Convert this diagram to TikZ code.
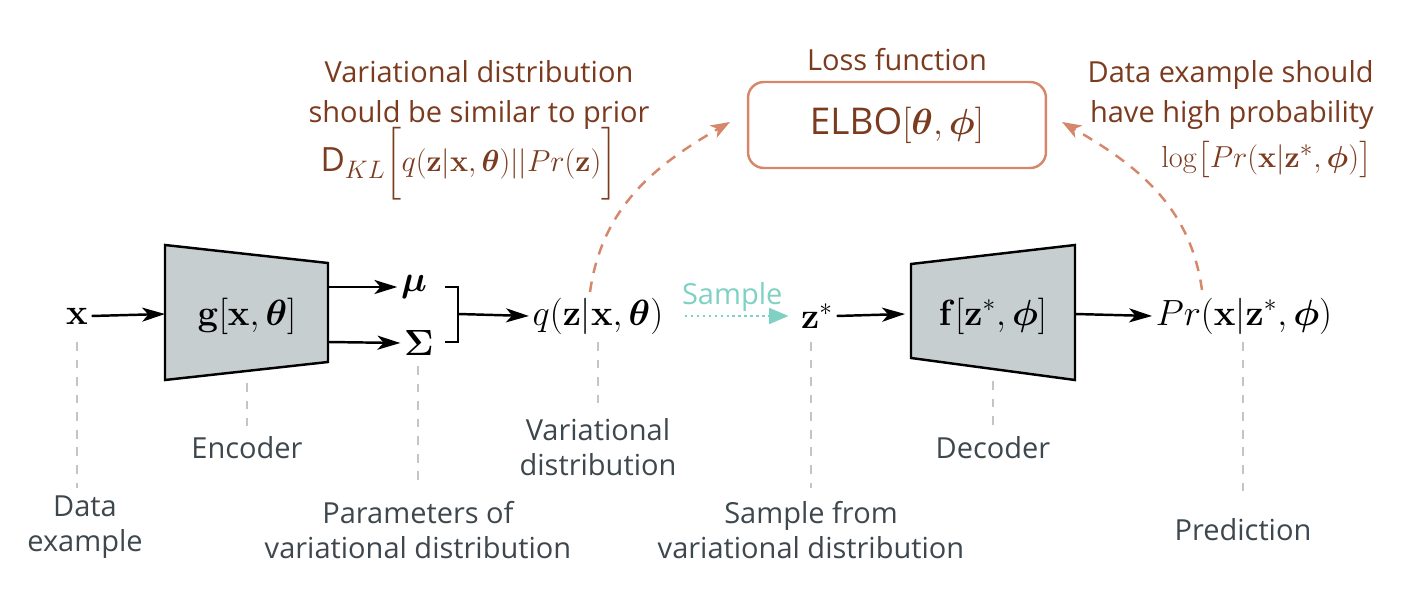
\documentclass[tikz,border=0pt]{standalone}
\usepackage[no-math]{fontspec}
\setmainfont{Open Sans}
\usepackage{amsmath,bm}
\usetikzlibrary{arrows.meta}
\definecolor{txtgray}{HTML}{3D474D}
\definecolor{brownt}{HTML}{7A3B1F}
\definecolor{orangel}{HTML}{D6876A}
\definecolor{tealc}{HTML}{7FD1C4}
\definecolor{boxgray}{HTML}{C7CECF}
\definecolor{dashgray}{HTML}{C4C4C4}
\begin{document}
\begin{tikzpicture}[x=0.02cm,y=-0.02cm,
  lbl/.style={text=txtgray,font=\fontsize{16.5}{20}\selectfont,align=center,inner sep=0pt},
  blbl/.style={text=brownt,font=\fontsize{16.5}{22.5}\selectfont,inner sep=0pt},
  mathlbl/.style={font=\fontsize{22}{26}\selectfont,inner sep=2pt},
  arr/.style={-{Stealth[length=13pt,width=8pt,inset=3.5pt]},line width=1.4pt},
  guide/.style={dashgray,line width=1.2pt,dash pattern=on 5pt off 5pt},
  orarr/.style={orangel,line width=1.4pt,dash pattern=on 6pt off 5pt,-{Stealth[length=11pt,width=8pt,inset=3pt]}},
  trap/.style={fill=boxgray,draw=black,line width=1.4pt,line join=miter}]
\useasboundingbox (0,0) rectangle (1428,594);

% main row
\node[mathlbl] (x) at (77,316) {$\mathbf{x}$};
\coordinate (e1) at (165,245); \coordinate (e2) at (328,263);
\coordinate (e3) at (328,362); \coordinate (e4) at (165,380);
\draw[trap] (e1) -- (e2) -- (e3) -- (e4) -- cycle;
\node[mathlbl] (g) at (247,316) {$\mathbf{g}[\mathbf{x},\bm{\theta}]$};
\coordinate (encL) at (165,314);
\draw[arr] (x.east) -- (encL);

\node[mathlbl] (mu) at (414,287) {$\bm{\mu}$};
\node[mathlbl] (sig) at (419,343) {$\bm{\Sigma}$};
\coordinate (encR1) at (328,287); \coordinate (encR2) at (328,342);
\draw[arr] (encR1) -- (mu.west);
\draw[arr] (encR2) -- (sig.west);

\coordinate (b1) at (445,287); \coordinate (b2) at (458,287);
\coordinate (b3) at (458,342); \coordinate (b4) at (445,342);
\coordinate (bm) at (458,314);
\draw[line width=1.4pt] (b1) -- (b2) -- (b3) -- (b4);

\node[mathlbl] (q) at (598,316) {$q(\mathbf{z}|\mathbf{x},\bm{\theta})$};
\draw[arr] (bm) -- (q.west);

\node[mathlbl] (z) at (817,316) {$\mathbf{z}^{*}$};
\draw[tealc,line width=1.4pt,dotted,-{Triangle[length=11pt,width=9pt]},shorten <=10pt,shorten >=5pt] (q.east) -- node[above=2pt,font=\fontsize{16.5}{19.5}\selectfont,text=tealc,inner sep=0pt] (samp) {Sample} (z.west);

\coordinate (d1) at (911,264); \coordinate (d2) at (1075,245);
\coordinate (d3) at (1075,380); \coordinate (d4) at (911,358);
\draw[trap] (d1) -- (d2) -- (d3) -- (d4) -- cycle;
\node[mathlbl] (f) at (993,316) {$\mathbf{f}[\mathbf{z}^{*},\bm{\phi}]$};
\coordinate (decL) at (905,314); \coordinate (decR) at (1075,314);
\draw[arr] (z.east) -- (decL);

\node[mathlbl] (pr) at (1244,316) {$Pr(\mathbf{x}|\mathbf{z}^{*},\bm{\phi})$};
\draw[arr] (decR) -- (pr.west);

% loss
\node[draw=orangel,line width=1.4pt,rounded corners=9pt,minimum width=5.96cm,minimum height=1.72cm,text=brownt,font=\fontsize{21}{25}\selectfont] (elbo) at (897,125) {ELBO$[\bm{\theta},\bm{\phi}]$};
\node[blbl] (loss) at (897,60) {Loss function};

\node[blbl,align=center] (vd) at (479,95) {Variational distribution\\should be similar to prior};
\node[blbl,font=\fontsize{19}{23}\selectfont] (vd3) at (469,164) {D$_{KL}\biggl[q(\mathbf{z}|\mathbf{x},\bm{\theta})||Pr(\mathbf{z})\biggr]$};

\node[blbl,anchor=east,align=right] (de) at (1374,95) {Data example should\\have high probability};
\node[blbl,anchor=east,font=\fontsize{19}{23}\selectfont] (de3) at (1372,160) {$\log\bigl[Pr(\mathbf{x}|\mathbf{z}^{*},\bm{\phi})\bigr]$};

\coordinate (qtop) at (590,292); \coordinate (elboL) at (730,122);
\coordinate (prtop) at (1202,290); \coordinate (elboR) at (1062,122);
\draw[orarr] (qtop) to[out=82,in=-150] (elboL);
\draw[orarr] (prtop) to[out=98,in=-30] (elboR);

% bottom labels
\draw[guide] (77,342) -- (77,488);
\node[lbl] (ldata) at (85,527) {Data\\example};
\draw[guide] (247,383) -- (247,426);
\node[lbl] (lenc) at (247,448) {Encoder};
\draw[guide] (418,366) -- (418,486);
\node[lbl] (lpar) at (418,530) {Parameters of\\variational distribution};
\draw[guide] (598,342) -- (598,406);
\node[lbl] (lvar) at (598,447) {Variational\\distribution};
\draw[guide] (811,342) -- (811,488);
\node[lbl] (lsam) at (811,530) {Sample from\\variational distribution};
\draw[guide] (993,381) -- (993,426);
\node[lbl] (ldec) at (993,448) {Decoder};
\draw[guide] (1243,342) -- (1243,497);
\node[lbl] (lpred) at (1243,530) {Prediction};
\end{tikzpicture}
\end{document}
